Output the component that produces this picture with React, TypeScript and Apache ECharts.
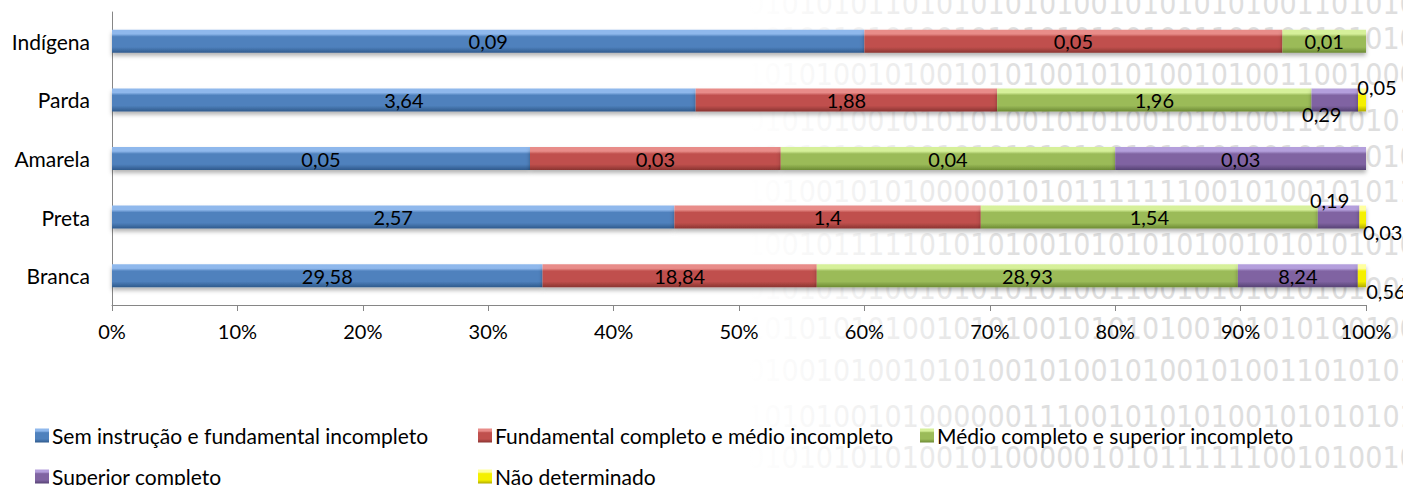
import React, { useEffect, useRef } from "react";
import * as echarts from "echarts";

const categories = ["Branca", "Preta", "Amarela", "Parda", "Indígena"];
const semInstrucao = [29.58, 2.57, 0.05, 3.64, 0.09];
const fundamental = [18.84, 1.4, 0.03, 1.88, 0.05];
const medio = [28.93, 1.54, 0.04, 1.96, 0.01];
const superior = [8.24, 0.19, 0.03, 0.29, 0];
const naoDeterminado = [0.56, 0.03, 0, 0.05, 0];
const seriesNames = [
  "Sem instrução e fundamental incompleto",
  "Fundamental completo e médio incompleto",
  "Médio completo e superior incompleto",
  "Superior completo",
  "Não determinado",
];
const xTicks = [0, 10, 20, 30, 40, 50, 60, 70, 80, 90, 100];

const watermarkRows = [
  "1010101011010101010100101010101001101010101",
  "0101001010100101010101001001100100101010101",
  "0101010010100101010010101001010011001000001",
  "0010101001010101001010100101010011010101010",
  "1010101001001010101010010101010010101010010",
  "0101001010100000101011111110010100101011",
  "0100101111101010100101010101001010101010",
  "1010101010010101010100110010101010101001",
  "0101010101001010100101010100101010100100",
  "1010010100101010010100101001010011010101",
  "0101010010100000011100101010100101010101",
  "1010101010100101000001010111111001010010",
];
const watermarkY = [5, 40, 76, 122, 158, 193, 246, 290, 330, 372, 418, 459];

const FONT = "Lato, 'Open Sans', sans-serif";

function grad(light: string, base: string, dark: string) {
  return new echarts.graphic.LinearGradient(0, 0, 0, 1, [
    { offset: 0, color: light },
    { offset: 0.18, color: light },
    { offset: 0.3, color: base },
    { offset: 0.75, color: base },
    { offset: 1, color: dark },
  ]);
}

const palette = [
  grad("#8fb8ec", "#4f81bd", "#2f5a8c"),
  grad("#e88c89", "#c0504d", "#8a3431"),
  grad("#d6f09a", "#9bbb59", "#6c8a33"),
  grad("#b49fdc", "#8064a2", "#564274"),
  grad("#ffffa0", "#f5f000", "#b0aa00"),
];

export default function App() {
  const ref = useRef<HTMLDivElement>(null);
  useEffect(() => {
    document.body.style.margin = "0";
    if (!ref.current) return;
    const chart = echarts.init(ref.current, undefined, { renderer: "svg" });
    const raw = [semInstrucao, fundamental, medio, superior, naoDeterminado];
    const totals = categories.map((_, i) =>
      raw.reduce((s, arr) => s + arr[i], 0)
    );
    const offsets: Record<string, number[]> = {
      "3-1": [-9, -17],
      "3-3": [-13, 14],
      "4-0": [24, 15],
      "4-1": [20, 15],
      "4-3": [15, -13],
    };
    const series = raw.map((arr, si) => ({
      name: seriesNames[si],
      type: "bar",
      stack: "total",
      barWidth: 23,
      itemStyle: {
        color: palette[si],
        shadowColor: "rgba(0,0,0,0.3)",
        shadowBlur: 4,
        shadowOffsetY: 3,
      },
      label: {
        show: true,
        position: "inside",
        color: "#000",
        fontFamily: FONT,
        fontSize: 20,
        formatter: (p: any) => String(arr[p.dataIndex]).replace(".", ","),
      },
      data: arr.map((v, ci) => {
        if (!v) return { value: "-", label: { show: false } };
        const key = `${si}-${ci}`;
        const item: any = { value: (v / totals[ci]) * 100 };
        if (offsets[key]) item.label = { offset: offsets[key] };
        return item;
      }),
    }));

    const legendPos = [
      [35, 425],
      [478, 425],
      [920, 425],
      [35, 466],
      [478, 466],
    ];
    const legends = seriesNames.map((n, i) => ({
      data: [n],
      left: legendPos[i][0],
      top: legendPos[i][1],
      orient: "horizontal",
      padding: 0,
      icon: "rect",
      itemWidth: 14,
      itemHeight: 14,
      selectedMode: false,
      textStyle: { color: "#000", fontSize: 21, fontFamily: FONT, padding: [0, 0, 0, -2] },
    }));

    const graphicEls: any[] = watermarkRows.map((s, i) => ({
      type: "text",
      left: 730,
      top: watermarkY[i] - 17,
      z: -10,
      silent: true,
      style: {
        text: s,
        font: "30px 'DejaVu Sans Condensed', 'Liberation Sans Narrow', 'Liberation Sans', sans-serif",
        fill: "#dedede",
      },
    }));
    graphicEls.push({
      type: "rect",
      left: 700,
      top: 0,
      z: -9,
      silent: true,
      shape: { width: 330, height: 485 },
      style: {
        fill: new echarts.graphic.LinearGradient(0, 0, 1, 0, [
          { offset: 0, color: "rgba(255,255,255,1)" },
          { offset: 0.15, color: "rgba(255,255,255,1)" },
          { offset: 1, color: "rgba(255,255,255,0)" },
        ]),
      },
    });

    chart.setOption({
      animation: false,
      backgroundColor: "#fff",
      graphic: { elements: graphicEls },
      grid: { left: 112, right: 37, top: 12, bottom: 180, containLabel: false },
      legend: legends,
      xAxis: {
        type: "value",
        min: xTicks[0],
        max: xTicks[xTicks.length - 1],
        interval: 10,
        axisLine: { show: true, lineStyle: { color: "#868686", width: 1 } },
        axisTick: { show: true, length: 6, lineStyle: { color: "#868686" } },
        splitLine: { show: false },
        axisLabel: {
          formatter: "{value}%",
          color: "#000",
          fontSize: 20,
          fontFamily: FONT,
          margin: 16,
        },
      },
      yAxis: {
        type: "category",
        data: categories,
        axisLine: { show: true, lineStyle: { color: "#868686", width: 1 } },
        axisTick: { show: false },
        axisLabel: {
          color: "#000",
          fontSize: 21,
          fontFamily: FONT,
          margin: 22,
        },
      },
      series,
    });
    return () => chart.dispose();
  }, []);
  return <div ref={ref} style={{ width: 1403, height: 485 }} />;
}
